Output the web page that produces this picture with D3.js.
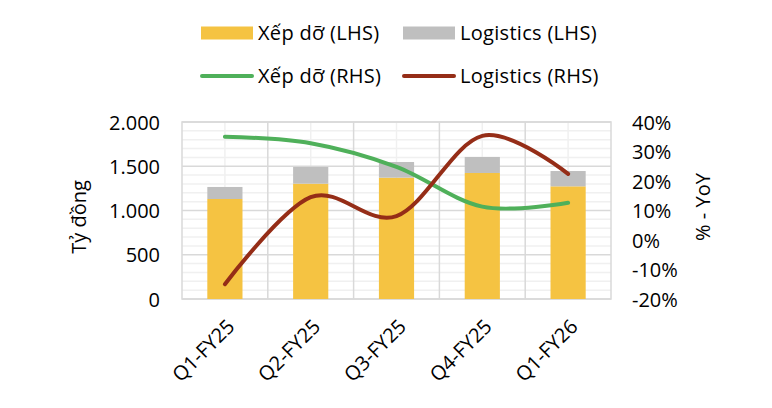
<!DOCTYPE html>
<html>
<head>
<meta charset="utf-8">
<script src="https://cdn.jsdelivr.net/npm/d3@7"></script>
<style>
  body { margin: 0; background: #fff; }
  svg text { font-family: "Open Sans", "Noto Sans", sans-serif; fill: #000; }
</style>
</head>
<body>
<div id="chart"></div>
<script>
// data
const quarters = ["Q1-FY25", "Q2-FY25", "Q3-FY25", "Q4-FY25", "Q1-FY26"];
const xepDo = [1130, 1303, 1371, 1424, 1273];        // Tỷ đồng
const logistics = [136, 189, 177, 181, 173];         // Tỷ đồng
const xepDoYoY = [35.0, 32.8, 24.8, 11.3, 12.6];      // %
const logisticsYoY = [-15.0, 14.5, 8.1, 35.3, 22.4];  // %
const leftTicks = [0, 500, 1000, 1500, 2000];
const rightTicks = [-20, -10, 0, 10, 20, 30, 40];

const colYellow = "#f5c342";
const colGrey = "#bfbfbf";
const colGreen = "#4fb05a";
const colRed = "#952d17";

const width = 772, height = 408;
const plot = {left: 182, right: 611, top: 122, bottom: 299};
const fontSize = "20px";

const svg = d3.select("#chart").append("svg")
    .attr("width", width)
    .attr("height", height);

const x = d3.scaleBand()
    .domain(quarters)
    .range([plot.left, plot.right]);

const yL = d3.scaleLinear().domain([0, 2000]).range([plot.bottom, plot.top]);
const yR = d3.scaleLinear().domain([-20, 40]).range([plot.bottom, plot.top]);

// minor gridlines (every 100 and category centres)
const grid = svg.append("g");
grid.selectAll(".hminor")
    .data(d3.range(100, 2000, 100).filter(d => d % 500 !== 0))
    .enter().append("line")
    .attr("x1", plot.left).attr("x2", plot.right)
    .attr("y1", d => yL(d)).attr("y2", d => yL(d))
    .style("stroke", "#f0f0f0").style("stroke-width", 1.5);
grid.selectAll(".vminor")
    .data(quarters)
    .enter().append("line")
    .attr("x1", d => x(d) + x.bandwidth() / 2).attr("x2", d => x(d) + x.bandwidth() / 2)
    .attr("y1", plot.top).attr("y2", plot.bottom)
    .style("stroke", "#f0f0f0").style("stroke-width", 1.5);

// major gridlines
grid.selectAll(".hmajor")
    .data(leftTicks)
    .enter().append("line")
    .attr("x1", plot.left).attr("x2", plot.right)
    .attr("y1", d => yL(d)).attr("y2", d => yL(d))
    .style("stroke", "#d9d9d9").style("stroke-width", 1.5);
grid.selectAll(".vmajor")
    .data(quarters.slice(1))
    .enter().append("line")
    .attr("x1", d => x(d)).attr("x2", d => x(d))
    .attr("y1", plot.top).attr("y2", plot.bottom)
    .style("stroke", "#d9d9d9").style("stroke-width", 1.5);
grid.append("rect")
    .attr("x", plot.left).attr("y", plot.top)
    .attr("width", plot.right - plot.left).attr("height", plot.bottom - plot.top)
    .style("fill", "none").style("stroke", "#d9d9d9").style("stroke-width", 1.5);

// stacked bars
const barW = x.bandwidth() * 0.41;
const bars = svg.append("g");
bars.selectAll(".xep")
    .data(quarters)
    .enter().append("rect")
    .attr("x", d => x(d) + (x.bandwidth() - barW) / 2)
    .attr("y", (d, i) => yL(xepDo[i]))
    .attr("width", barW)
    .attr("height", (d, i) => yL(0) - yL(xepDo[i]))
    .style("fill", colYellow);
bars.selectAll(".log")
    .data(quarters)
    .enter().append("rect")
    .attr("x", d => x(d) + (x.bandwidth() - barW) / 2)
    .attr("y", (d, i) => yL(xepDo[i] + logistics[i]))
    .attr("width", barW)
    .attr("height", (d, i) => yL(xepDo[i]) - yL(xepDo[i] + logistics[i]))
    .style("fill", colGrey);

// smoothed lines
const line = d3.line()
    .x(d => x(d[0]) + x.bandwidth() / 2)
    .y(d => yR(d[1]))
    .curve(d3.curveCardinal.tension(0));

svg.append("path")
    .datum(quarters.map((q, i) => [q, xepDoYoY[i]]))
    .attr("d", line)
    .style("fill", "none").style("stroke", colGreen)
    .style("stroke-width", 4).style("stroke-linecap", "round");
svg.append("path")
    .datum(quarters.map((q, i) => [q, logisticsYoY[i]]))
    .attr("d", line)
    .style("fill", "none").style("stroke", colRed)
    .style("stroke-width", 4).style("stroke-linecap", "round");

// axes (labels only)
const leftAxis = svg.append("g")
    .attr("transform", `translate(${plot.left - 22},0)`)
    .call(d3.axisLeft(yL).tickValues(leftTicks).tickSize(0)
        .tickFormat(d => d3.format(",")(d).replace(/,/g, ".")));
leftAxis.select(".domain").remove();
leftAxis.selectAll("text").style("font-size", fontSize).attr("x", 0).attr("dy", "0.35em");

const rightAxis = svg.append("g")
    .attr("transform", `translate(${plot.right + 21},0)`)
    .call(d3.axisRight(yR).tickValues(rightTicks).tickSize(0).tickFormat(d => d + "%"));
rightAxis.select(".domain").remove();
rightAxis.selectAll("text").style("font-size", fontSize).attr("x", 0).attr("dy", "0.35em");

// category labels
svg.append("g").selectAll("text")
    .data(quarters)
    .enter().append("text")
    .attr("transform", d => `translate(${x(d) + x.bandwidth() / 2 + 1},${plot.bottom + 19}) rotate(-45)`)
    .attr("text-anchor", "end")
    .attr("dy", "0.7em")
    .style("font-size", fontSize)
    .text(d => d);

// axis titles
svg.append("text")
    .attr("transform", "translate(86,217) rotate(-90)")
    .attr("text-anchor", "middle")
    .style("font-size", fontSize)
    .text("Tỷ đồng");
svg.append("text")
    .attr("transform", "translate(710,207) rotate(-90)")
    .attr("text-anchor", "middle")
    .style("font-size", fontSize)
    .text("% - YoY");

// legend
const legendItems = [
    {label: "Xếp dỡ (LHS)", color: colYellow, type: "box", x: 201, y: 33},
    {label: "Logistics (LHS)", color: colGrey, type: "box", x: 403, y: 33},
    {label: "Xếp dỡ (RHS)", color: colGreen, type: "line", x: 201, y: 76},
    {label: "Logistics (RHS)", color: colRed, type: "line", x: 403, y: 76}
];
const legend = svg.append("g");
legendItems.forEach(item => {
    if (item.type === "box") {
        legend.append("rect")
            .attr("x", item.x).attr("y", item.y - 6.5)
            .attr("width", 52).attr("height", 13)
            .style("fill", item.color);
    } else {
        legend.append("line")
            .attr("x1", item.x + 1).attr("x2", item.x + 51)
            .attr("y1", item.y).attr("y2", item.y)
            .style("stroke", item.color).style("stroke-width", 4)
            .style("stroke-linecap", "round");
    }
    legend.append("text")
        .attr("x", item.x + 57).attr("y", item.y)
        .attr("dy", "0.35em")
        .style("font-size", fontSize)
        .style("letter-spacing", "0.3px")
        .text(item.label);
});
</script>
</body>
</html>
